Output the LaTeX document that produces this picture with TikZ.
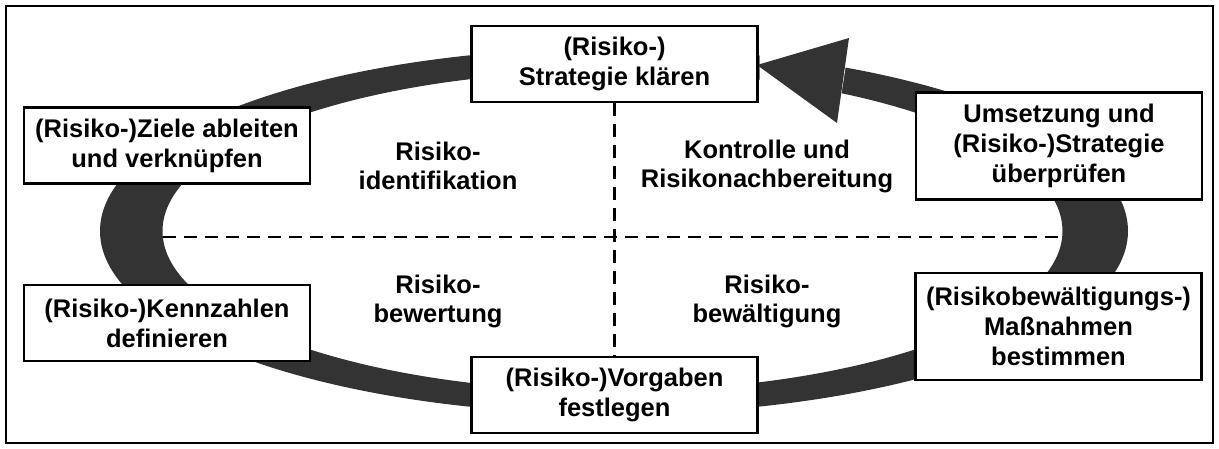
\documentclass[tikz,border=0pt]{standalone}
\usepackage{fontspec}
\setmainfont{Liberation Sans}
\definecolor{ringgray}{HTML}{333333}
\begin{document}
\begin{tikzpicture}[x=1pt,y=-1pt,
  box/.style={draw=black, line width=2.3pt, fill=white, minimum width=286pt, inner sep=0pt, align=center, font=\bfseries\fontsize{25.5}{30}\selectfont},
  twoline/.style={minimum height=76pt},
  threeline/.style={minimum height=107pt},
  lab/.style={align=center, inner sep=0pt, font=\bfseries\fontsize{25.5}{29}\selectfont},
  sep/.style={line width=2.8pt, dash pattern=on 13pt off 8pt}]
\useasboundingbox (0,0) rectangle (1219,448);
\draw[line width=2.4pt] (6,6) rectangle (1213,443);
% ring
\fill[ringgray, even odd rule] (614,231) ellipse [x radius=514pt, y radius=183pt]
  (612.5,231) ellipse [x radius=450pt, y radius=160pt];
\fill[white] (759.5,20) -- (853,20) -- (835,135) -- (759.5,135) -- cycle;
\fill[ringgray] (757,65) -- (849,38) -- (837,123) -- cycle;
% separators
\coordinate (hl) at (163,237);
\coordinate (hr) at (1062,237);
\draw[sep] (hl) -- (hr);
% boxes
\node[box,twoline] (top) at (614.5,64) {(Risiko-)\\Strategie klären};
\node[box,twoline] (bot) at (614.5,395) {(Risiko-)Vorgaben\\festlegen};
\draw[sep] (top.south) -- (bot.north);
\node[box,twoline] (tl) at (167,145.5) {(Risiko-)Ziele ableiten\\und verknüpfen};
\node[box,twoline] (bl) at (167,323) {(Risiko-)Kennzahlen\\definieren};
\node[box,threeline] (tr) at (1059,146) {Umsetzung und\\(Risiko-)Strategie\\überprüfen};
\node[box,threeline] (br) at (1058.5,326.5) {(Risikobewältigungs-)\\Maßnahmen\\bestimmen};
% labels
\node[lab] (q1) at (438,166) {Risiko-\\identifikation};
\node[lab] (q2) at (767,166) {Kontrolle und\\Risikonachbereitung};
\node[lab] (q3) at (438,301) {Risiko-\\bewertung};
\node[lab] (q4) at (767,301) {Risiko-\\bewältigung};
\end{tikzpicture}
\end{document}
